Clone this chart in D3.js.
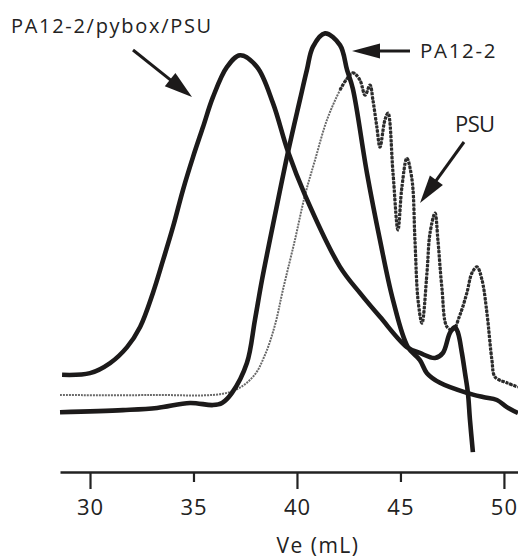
<!DOCTYPE html>
<html><head><meta charset="utf-8">
<script src="https://cdn.jsdelivr.net/npm/d3@7"></script>
<style>
html,body{margin:0;padding:0;background:#fff;}
svg{display:block;}
text{font-family:"Open Sans",sans-serif;fill:#222;}
</style></head>
<body><svg id="c" width="518" height="558"></svg>
<script>
// Elution volume (mL) and normalized detector response
const complexVe = [28.65,30.00,30.97,31.79,32.42,33.04,33.53,34.01,34.49,34.98,35.46,35.94,36.62,37.25,38.07,38.84,39.57,40.39,42.08,43.04,44.01,45.31,45.94,46.67,47.05,47.39,47.63,47.78,47.97,48.12,48.26,48.36,48.50];
const complexVal = [0.179,0.183,0.207,0.245,0.293,0.374,0.452,0.531,0.619,0.698,0.769,0.840,0.912,0.940,0.912,0.826,0.710,0.607,0.436,0.374,0.317,0.245,0.231,0.219,0.231,0.279,0.293,0.279,0.231,0.183,0.136,0.071,-0.005];

const pa12Ve = [28.55,31.59,33.24,34.83,35.94,36.38,36.86,37.58,37.97,38.31,38.94,39.57,40.14,40.48,40.77,41.35,42.08,42.42,42.70,43.38,44.01,44.64,45.36,45.94,46.28,46.91,48.21,48.99,49.66,50.14,50.68];
const pa12Val = [0.090,0.095,0.100,0.112,0.107,0.112,0.136,0.207,0.310,0.405,0.560,0.710,0.833,0.905,0.960,0.992,0.964,0.905,0.860,0.660,0.500,0.357,0.245,0.214,0.183,0.160,0.136,0.126,0.119,0.102,0.088];

const psuVe = [28.55,32.90,36.76,37.87,38.45,38.94,39.32,39.90,40.39,40.87,41.45,42.08,42.37,42.70,43.04,43.29,43.53,43.67,43.86,44.01,44.25,44.40,44.64,44.88,45.07,45.31,45.56,45.70,45.85,46.04,46.28,46.43,46.67,46.81,47.00,47.25,47.54,47.87,48.21,48.45,48.70,48.94,49.18,49.42,49.57,50.14,50.68];
const psuVal = [0.131,0.131,0.138,0.174,0.226,0.298,0.381,0.500,0.607,0.690,0.786,0.857,0.881,0.898,0.881,0.845,0.869,0.833,0.769,0.721,0.786,0.802,0.660,0.524,0.626,0.695,0.643,0.500,0.357,0.302,0.421,0.517,0.564,0.500,0.388,0.293,0.286,0.321,0.374,0.421,0.436,0.405,0.326,0.214,0.174,0.160,0.150];

const xTicks = [30,35,40,45,50];
const majorTicks = [30,40,50];
const xLabel = "Ve (mL)";
const labels = ["PA12-2/pybox/PSU","PA12-2","PSU"];

const svg = d3.select("#c");
const x = d3.scaleLinear().domain([28.55,50.68]).range([60,518]);
const y = d3.scaleLinear().domain([0,1]).range([450,30]);

const mk = (vs, ys) => vs.map((v,i)=>({x:v,y:ys[i]}));
const line = d3.line().x(d=>x(d.x)).y(d=>y(d.y)).curve(d3.curveCatmullRom.alpha(0.5));

// PSU dotted: faint on the rising part, darker across the oscillations
const psu = mk(psuVe,psuVal);
svg.append("path").datum(psu).attr("d",line)
  .attr("fill","none").attr("stroke","#6a6a6a").attr("stroke-width",2)
  .attr("stroke-dasharray","2,1");
svg.append("path").datum(psu.filter(d=>d.x>=42.0)).attr("d",line)
  .attr("fill","none").attr("stroke","#2a2a2a").attr("stroke-width",3.2)
  .attr("stroke-dasharray","3,1.2");
// solid curves
svg.append("path").datum(mk(complexVe,complexVal)).attr("d",line)
  .attr("fill","none").attr("stroke","#1c1a1a").attr("stroke-width",4.6).attr("stroke-linejoin","round");
svg.append("path").datum(mk(pa12Ve,pa12Val)).attr("d",line)
  .attr("fill","none").attr("stroke","#1c1a1a").attr("stroke-width",4.6).attr("stroke-linejoin","round");

// axis
const ax = svg.append("g").attr("transform","translate(0,472)")
  .call(d3.axisBottom(x).tickValues(xTicks).tickSizeOuter(0).tickFormat(d3.format("d")));
ax.select(".domain").attr("stroke","#222").attr("stroke-width",2.4);
ax.selectAll(".tick line").attr("stroke","#222").attr("stroke-width",2.2)
  .attr("y2",d=>majorTicks.includes(d)?17:10);
ax.selectAll(".tick text").attr("y",27).attr("dy","0.71em")
  .style("font-family",'"Open Sans",sans-serif').style("font-size","22px")
  .style("letter-spacing","1px").attr("fill","#222");

svg.append("text").attr("x",318).attr("y",553).attr("text-anchor","middle")
  .style("font-size","21px").style("letter-spacing","1.5px").text(xLabel);

// annotations
svg.append("text").attr("x",11).attr("y",33).style("font-size","20px").style("letter-spacing","1.7px").text(labels[0]);
svg.append("text").attr("x",420).attr("y",58).style("font-size","20.5px").style("letter-spacing","1.7px").text(labels[1]);
svg.append("text").attr("x",455).attr("y",132).style("font-size","22px").style("letter-spacing","-0.6px").text(labels[2]);

function arrow(x1,y1,x2,y2,hl,hw){
  const dx=x2-x1, dy=y2-y1, L=Math.hypot(dx,dy), ux=dx/L, uy=dy/L;
  const bx=x2-ux*hl, by=y2-uy*hl;
  svg.append("line").attr("x1",x1).attr("y1",y1).attr("x2",bx+ux*2).attr("y2",by+uy*2)
    .attr("stroke","#1c1a1a").attr("stroke-width",3);
  svg.append("path").attr("d",`M${x2},${y2}L${bx-uy*hw/2},${by+ux*hw/2}L${bx+uy*hw/2},${by-ux*hw/2}Z`)
    .attr("fill","#1c1a1a");
}
arrow(133,50,192,97,28,17);
arrow(410,51,352,51,28,15);
arrow(464,142,420,203,28,16);
</script></body></html>
